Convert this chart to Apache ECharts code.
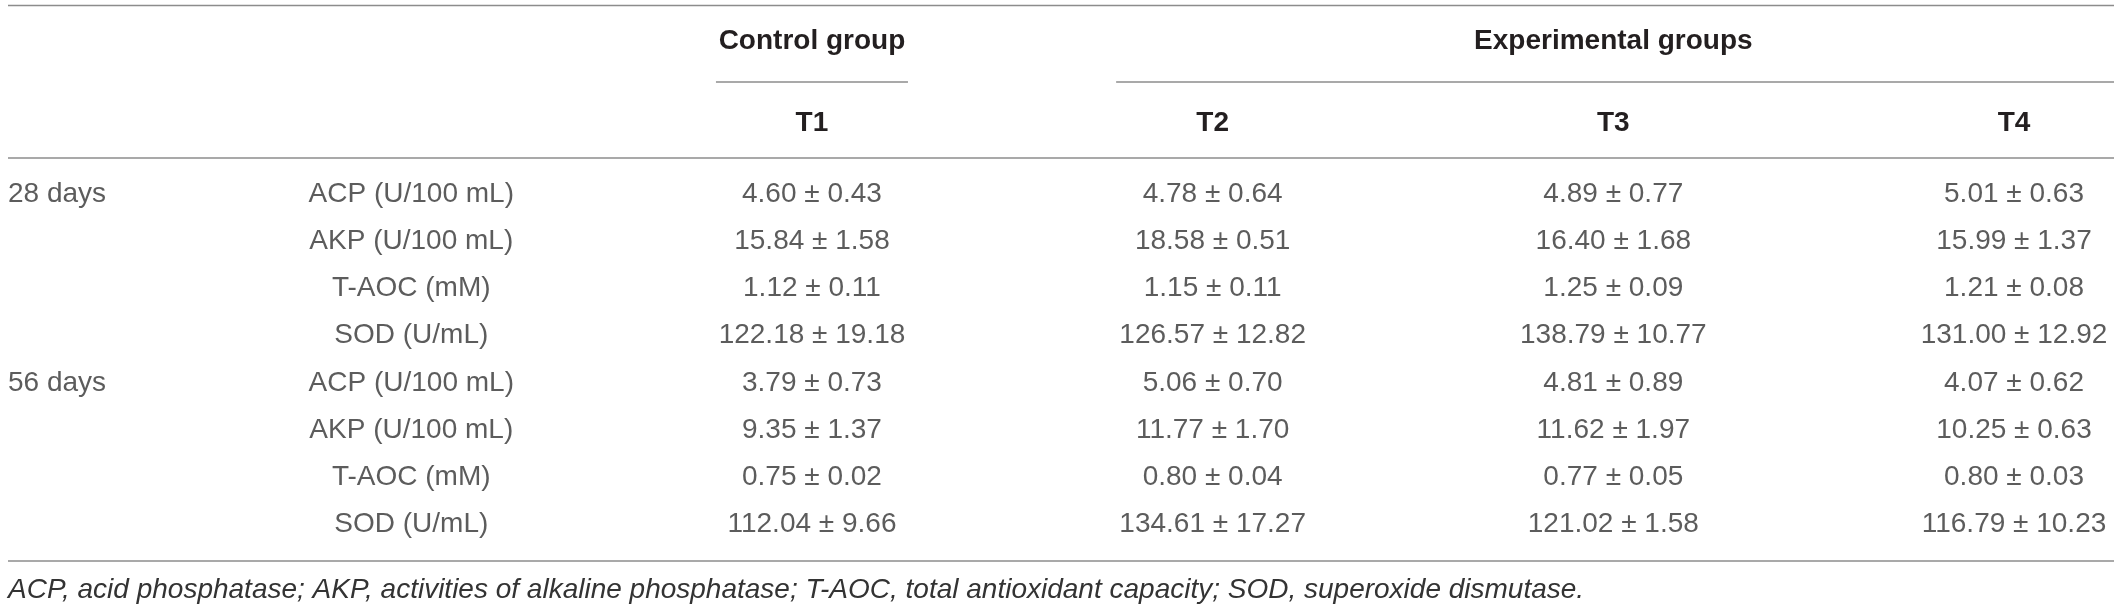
<!DOCTYPE html>
<html>
<head>
<meta charset="utf-8">
<script src="https://cdn.jsdelivr.net/npm/echarts@6/dist/echarts.min.js"></script>
<style>
  html, body { margin: 0; padding: 0; background: #fff; }
  #main { width: 2120px; height: 609px; }
</style>
</head>
<body>
<div id="main"></div>
<script>
// table columns and header labels
var columns = ['Day', 'Index', 'T1', 'T2', 'T3', 'T4'];
var groupLabels = ['', '', 'Control group', '', 'Experimental groups', ''];
var days = ['28 days', '', '', '', '56 days', '', '', ''];
var indices = ['ACP (U/100 mL)', 'AKP (U/100 mL)', 'T-AOC (mM)', 'SOD (U/mL)',
  'ACP (U/100 mL)', 'AKP (U/100 mL)', 'T-AOC (mM)', 'SOD (U/mL)'];

// mean and sd per group
var t1Mean = [4.60, 15.84, 1.12, 122.18, 3.79, 9.35, 0.75, 112.04];
var t1Sd = [0.43, 1.58, 0.11, 19.18, 0.73, 1.37, 0.02, 9.66];
var t2Mean = [4.78, 18.58, 1.15, 126.57, 5.06, 11.77, 0.80, 134.61];
var t2Sd = [0.64, 0.51, 0.11, 12.82, 0.70, 1.70, 0.04, 17.27];
var t3Mean = [4.89, 16.40, 1.25, 138.79, 4.81, 11.62, 0.77, 121.02];
var t3Sd = [0.77, 1.68, 0.09, 10.77, 0.89, 1.97, 0.05, 1.58];
var t4Mean = [5.01, 15.99, 1.21, 131.00, 4.07, 10.25, 0.80, 116.79];
var t4Sd = [0.63, 1.37, 0.08, 12.92, 0.62, 0.63, 0.03, 10.23];

var footnote = 'ACP, acid phosphatase; AKP, activities of alkaline phosphatase; T-AOC, total antioxidant capacity; SOD, superoxide dismutase.';

var FONT = '"Liberation Sans", Arial, Helvetica, sans-serif';
var TEXT = '#333';
var RULE = '#8c8c8c';

var rowNames = indices.map(function (n, i) { return (i < 4 ? '28d ' : '56d ') + n; });

function cellData(col, texts) {
  var out = [];
  texts.forEach(function (t, r) {
    if (t !== '') out.push({ value: [col, r], name: t });
  });
  return out;
}

function fmt(means, sds) {
  return means.map(function (m, i) { return m.toFixed(2) + ' \u00b1 ' + sds[i].toFixed(2); });
}

function cellSeries(data, align, dx) {
  return {
    type: 'scatter',
    symbolSize: 0,
    silent: true,
    data: data,
    label: {
      show: true,
      position: 'inside',
      align: align,
      verticalAlign: 'middle',
      offset: [dx, 0],
      formatter: function (p) { return p.name; },
      fontFamily: FONT,
      fontSize: 28,
      color: TEXT
    }
  };
}

var chart = echarts.init(document.getElementById('main'));

chart.setOption({
  backgroundColor: '#fff',
  animation: false,
  grid: { left: 10.6, right: 106, top: 194, bottom: 84.3, containLabel: false },
  xAxis: [{
    type: 'category',
    data: columns,
    boundaryGap: false,
    position: 'top',
    axisLine: { show: false },
    axisTick: { show: false },
    splitLine: { show: false },
    axisLabel: {
      interval: 0,
      margin: 71,
      verticalAlign: 'middle',
      fontFamily: FONT,
      fontSize: 28,
      fontWeight: 'bold',
      color: '#231f20',
      formatter: function (v) { return v.charAt(0) === 'T' ? v : ''; }
    }
  }, {
    type: 'category',
    data: columns,
    boundaryGap: false,
    position: 'top',
    axisLine: { show: false },
    axisTick: { show: false },
    splitLine: { show: false },
    axisLabel: {
      interval: 0,
      margin: 153,
      verticalAlign: 'middle',
      hideOverlap: false,
      fontFamily: FONT,
      fontSize: 28,
      fontWeight: 'bold',
      color: '#231f20',
      formatter: function (v, i) { return groupLabels[i]; }
    }
  }],
  yAxis: {
    type: 'category',
    data: rowNames,
    inverse: true,
    boundaryGap: false,
    show: false
  },
  series: [
    cellSeries(cellData(0, days), 'left', -2.6),
    cellSeries(cellData(1, indices), 'center', 0),
    cellSeries(cellData(2, fmt(t1Mean, t1Sd)), 'center', 0),
    cellSeries(cellData(3, fmt(t2Mean, t2Sd)), 'center', 0),
    cellSeries(cellData(4, fmt(t3Mean, t3Sd)), 'center', 0),
    cellSeries(cellData(5, fmt(t4Mean, t4Sd)), 'center', 0)
  ]
});

// table rules and footnote, placed from the axis positions
var xOf = function (i) { return chart.convertToPixel({ xAxisIndex: 0 }, i); };
var yOf = function (i) { return chart.convertToPixel({ yAxisIndex: 0 }, i); };
var left = xOf(0) - 2.6;
var right = xOf(5) + 100;
var yFirst = yOf(0);
var yLast = yOf(indices.length - 1);

function rule(x1, x2, y) {
  return {
    type: 'line',
    silent: true,
    shape: { x1: x1, y1: y, x2: x2, y2: y },
    style: { stroke: RULE, lineWidth: 1.5 }
  };
}

chart.setOption({
  graphic: [
    rule(left, right, yFirst - 188.5),
    rule(xOf(2) - 96, xOf(2) + 96, yFirst - 112),
    rule(xOf(3) - 96.5, right, yFirst - 112),
    rule(left, right, yFirst - 36),
    rule(left, right, yLast + 36.3),
    {
      type: 'text',
      silent: true,
      x: left,
      y: yLast + 65.5,
      style: {
        text: footnote,
        font: 'italic 28px ' + FONT,
        fill: TEXT,
        verticalAlign: 'middle'
      }
    }
  ]
});
</script>
</body>
</html>
